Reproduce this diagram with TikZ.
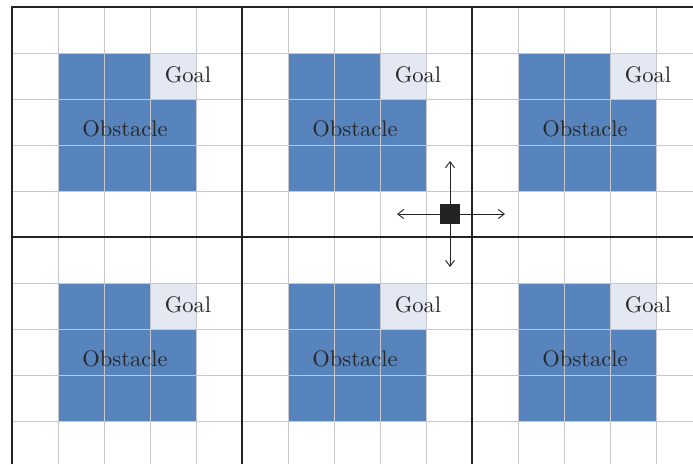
\documentclass[tikz,border=0pt]{standalone}
\usepackage{fontspec}
\setmainfont{lmroman10-regular}[Extension=.otf]
\usetikzlibrary{arrows.meta}
\definecolor{obst}{RGB}{88,132,190}
\definecolor{goalc}{RGB}{228,232,242}
\definecolor{gridc}{RGB}{198,200,206}
\definecolor{framec}{RGB}{35,35,35}
\definecolor{txtc}{RGB}{40,40,40}
\tikzset{
  obstcell/.style={fill=obst},
  goalcell/.style={fill=goalc},
  gridline/.style={draw=gridc, line width=1pt},
  frameline/.style={draw=framec, line width=1.1pt},
  lbl/.style={text=txtc, font=\fontsize{22.5}{26}\selectfont, inner sep=0pt},
  agentbox/.style={fill=framec, draw=framec, minimum size=19pt, inner sep=0pt},
  movearrow/.style={draw=framec, line width=0.9pt, -{Straight Barb[length=6pt,width=9pt]}}
}
\begin{document}
\begin{tikzpicture}[x=1pt,y=-1pt]
\useasboundingbox (0,0) rectangle (693,464);
\fill[white] (0,0) rectangle (693,464);
\clip (0,0) rectangle (693,464);
% cells
\foreach \px in {0,1,2} {
  \foreach \py in {0,1} {
    \begin{scope}[shift={(12+230*\px,7+230*\py)}]
      \fill[obstcell] (46,46) rectangle (138,92);
      \fill[obstcell] (46,92) rectangle (184,184);
      \fill[goalcell] (138,46) rectangle (184,92);
    \end{scope}
  }
}
% grid
\foreach \k in {1,...,14} {
  \draw[gridline] (12+46*\k,7) -- (12+46*\k,464);
}
\foreach \k in {1,...,9} {
  \draw[gridline] (12,7+46*\k) -- (693,7+46*\k);
}
% frames
\draw[frameline] (12,464) -- (12,7) -- (693,7);
\draw[frameline] (242,7) -- (242,464);
\draw[frameline] (472,7) -- (472,464);
\draw[frameline] (12,237) -- (693,237);
% labels
\foreach \px in {0,1,2} {
  \foreach \py in {0,1} {
    \node[lbl] (goal\px\py) at (12+230*\px+176,7+230*\py+68) {Goal};
    \node[lbl] (obst\px\py) at (12+230*\px+113,7+230*\py+122) {Obstacle};
  }
}
% agent
\node[agentbox] (agent) at (450,214) {};
\coordinate (mvup) at (450,161);
\coordinate (mvdown) at (450,267);
\coordinate (mvleft) at (397,214);
\coordinate (mvright) at (505,214);
\draw[movearrow] (agent) -- (mvup);
\draw[movearrow] (agent) -- (mvdown);
\draw[movearrow] (agent) -- (mvleft);
\draw[movearrow] (agent) -- (mvright);
\end{tikzpicture}
\end{document}
